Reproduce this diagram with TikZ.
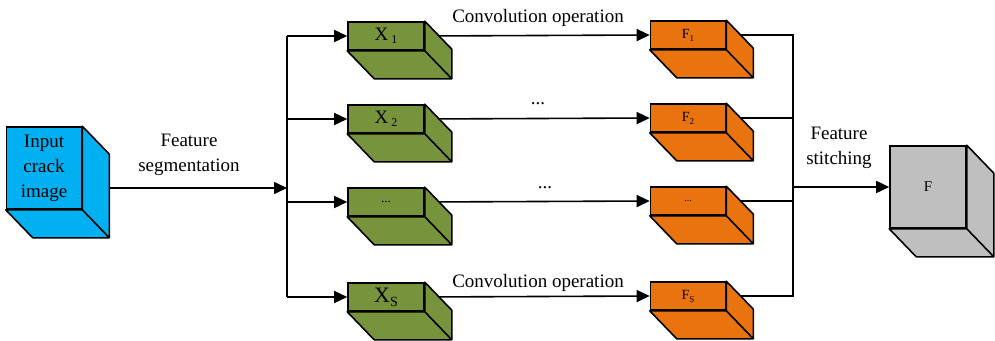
\documentclass[tikz,border=0pt]{standalone}
\usepackage{fontspec}
\setmainfont{Liberation Serif}
\usetikzlibrary{arrows.meta}
\pgfdeclarelayer{background}
\pgfsetlayers{background,main}
\definecolor{cubeblue}{HTML}{00B0F0}
\definecolor{cubegreen}{HTML}{77933C}
\definecolor{cubeorange}{HTML}{E9730E}
\definecolor{cubegray}{HTML}{BFBFBF}
% side and bottom faces of a block, drawn behind-right of its front node
\newcommand{\Depth}[2]{%
  \filldraw[fill=#2,line width=1.6pt,line join=round]
    (#1.north east) -- ([shift={(27,28)}]#1.north east)
    -- ([shift={(27,28)}]#1.south east) -- ([shift={(27,28)}]#1.south west)
    -- (#1.south west) -- (#1.south east) -- cycle
    (#1.south east) -- ([shift={(27,28)}]#1.south east);}

\begin{document}
\begin{tikzpicture}[x=1pt,y=-1pt]
  \tikzstyle{Front}=[draw,line width=1.6pt,inner sep=0pt,align=center]
  \tikzstyle{Flat}=[Front,minimum width=76pt,minimum height=28pt]
  \tikzstyle{Big}=[Front,minimum width=75pt,minimum height=82pt]
  \tikzstyle{Line}=[line width=1.6pt]
  \tikzstyle{Arrow}=[Line,-{Triangle[length=13pt,width=12pt]}]
  \tikzstyle{Label}=[font=\fontsize{19}{25}\selectfont,align=center]
  \useasboundingbox (0,0) rectangle (995,340);
  % blocks
  \node[Big,fill=cubeblue,font=\fontsize{19}{25}\selectfont] (in) at (44,168) {Input\\crack\\image};
  \node[Flat,fill=cubegreen] (x1) at (386,36)
    {\fontsize{19}{19}\selectfont X\,\raisebox{-3pt}{\fontsize{12}{12}\selectfont 1}};
  \node[Flat,fill=cubegreen] (x2) at (386,119)
    {\fontsize{19}{19}\selectfont X\,\raisebox{-3pt}{\fontsize{12}{12}\selectfont 2}};
  \node[Flat,fill=cubegreen] (x3) at (386,202) {\fontsize{13}{13}\selectfont ...};
  \node[Flat,fill=cubegreen] (xs) at (386,297)
    {\fontsize{22}{22}\selectfont X\raisebox{-4pt}{\fontsize{14}{14}\selectfont S}};
  \node[Flat,fill=cubeorange,minimum width=75pt] (f1) at (688,35)
    {\fontsize{14}{14}\selectfont F\raisebox{-3pt}{\fontsize{9}{9}\selectfont 1}};
  \node[Flat,fill=cubeorange,minimum width=75pt] (f2) at (688,118)
    {\fontsize{14}{14}\selectfont F\raisebox{-3pt}{\fontsize{9}{9}\selectfont 2}};
  \node[Flat,fill=cubeorange,minimum width=75pt] (f3) at (688,201) {\fontsize{10}{10}\selectfont ...};
  \node[Flat,fill=cubeorange,minimum width=75pt] (fs) at (688,296)
    {\fontsize{14}{14}\selectfont F\raisebox{-3pt}{\fontsize{9}{9}\selectfont S}};
  \node[Big,fill=cubegray,minimum width=76pt] (out) at (928,187) {\fontsize{15}{15}\selectfont F};
  \Depth{in}{cubeblue}
  \Depth{x1}{cubegreen}
  \Depth{x2}{cubegreen}
  \Depth{x3}{cubegreen}
  \Depth{xs}{cubegreen}
  \Depth{f1}{cubeorange}
  \Depth{f2}{cubeorange}
  \Depth{f3}{cubeorange}
  \Depth{fs}{cubeorange}
  \Depth{out}{cubegray}
  % labels
  \node[Label] (seg) at (189,155) {Feature\\segmentation};
  \node[Label] (conv1) at (538,18) {Convolution operation};
  \node[Label] (dots1) at (538,104) {...};
  \node[Label] (dots2) at (545,188) {...};
  \node[Label] (conv2) at (538,283) {Convolution operation};
  \node[Label] (stitch) at (839,148) {Feature\\stitching};
  % connectors
  \coordinate (split) at (287,188);
  \coordinate (merge) at (793,187);
  \begin{pgfonlayer}{background}
    \draw[Arrow] (in.east |- split) -- (split);
    \draw[Line] (split |- x1) -- (split |- xs);
    \draw[Arrow] (split |- x1) -- (x1.west);
    \draw[Arrow] (split |- x2) -- (x2.west);
    \draw[Arrow] (split |- x3) -- (x3.west);
    \draw[Arrow] (split |- xs) -- (xs.west);
    \draw[Arrow] (x1.east) -- (f1.west);
    \draw[Arrow] (x2.east) -- (f2.west);
    \draw[Arrow] (x3.east) -- (f3.west);
    \draw[Arrow] (xs.east) -- (fs.west);
    \draw[Line] (f1.east) -- (merge |- f1) -- (merge |- fs) -- (fs.east);
    \draw[Line] (f2.east) -- (merge |- f2);
    \draw[Line] (f3.east) -- (merge |- f3);
    \draw[Arrow] (merge) -- (out.west);
  \end{pgfonlayer}
\end{tikzpicture}
\end{document}
